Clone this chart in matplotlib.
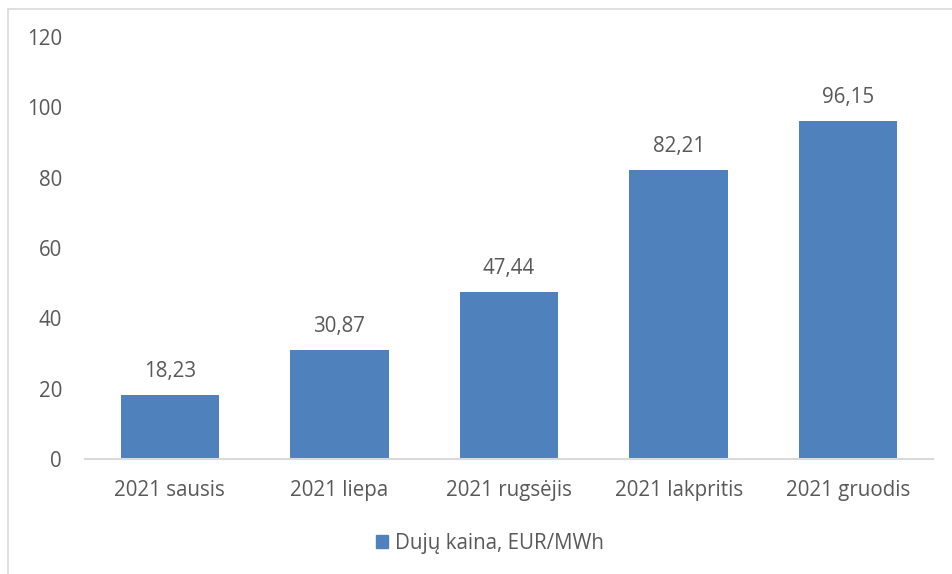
import matplotlib
matplotlib.use("Agg")
import matplotlib.pyplot as plt
from matplotlib.patches import Rectangle, Patch

categories = ["2021 sausis", "2021 liepa", "2021 rugsėjis", "2021 lakpritis", "2021 gruodis"]
values = [18.23, 30.87, 47.44, 82.21, 96.15]
labels = ["18,23", "30,87", "47,44", "82,21", "96,15"]
series_name = "Dujų kaina, EUR/MWh"
yticks = [0, 20, 40, 60, 80, 100, 120]

plt.rcParams['font.family'] = ['Open Sans', 'DejaVu Sans']
txt = "#595959"
bar_color = "#4F81BD"
fs = 14.8

fig = plt.figure(figsize=(9.52, 5.74), dpi=100)
# outer border
fig.patches.append(Rectangle((8/952, -0.05), 1.1, 1 - 9/574 + 0.05, transform=fig.transFigure,
                             fill=False, edgecolor="#D9D9D9", linewidth=1.2))

ax = fig.add_axes([85/952, 1 - 459/574, (933 - 85)/952, (459 - 37)/574])
x = list(range(len(categories)))
ax.bar(x, values, width=0.58, color=bar_color, zorder=2)
for xi, v, lab in zip(x, values, labels):
    ax.text(xi, v + 3.8, lab, ha="center", va="bottom", fontsize=fs, color=txt)

ax.set_xlim(-0.5, len(categories) - 0.5)
ax.set_ylim(0, 120)
ax.set_yticks(yticks)
ax.set_yticklabels([str(t) for t in yticks])
ax.set_xticks(x)
ax.set_xticklabels(categories)
ax.tick_params(axis="both", length=0, labelsize=fs, colors=txt)
ax.tick_params(axis="x", pad=15)
ax.tick_params(axis="y", pad=16.5)
for s in ["top", "right", "left"]:
    ax.spines[s].set_visible(False)
ax.spines["bottom"].set_color("#D9D9D9")
ax.spines["bottom"].set_linewidth(1.5)

fig.legend(handles=[Patch(color=bar_color, label=series_name)], loc="center",
           bbox_to_anchor=(490/952, 1 - 543/574), frameon=False, fontsize=fs,
           handlelength=0.6, handleheight=0.6, handletextpad=0.35, labelcolor=txt)

fig.savefig("out.png", dpi=100)
